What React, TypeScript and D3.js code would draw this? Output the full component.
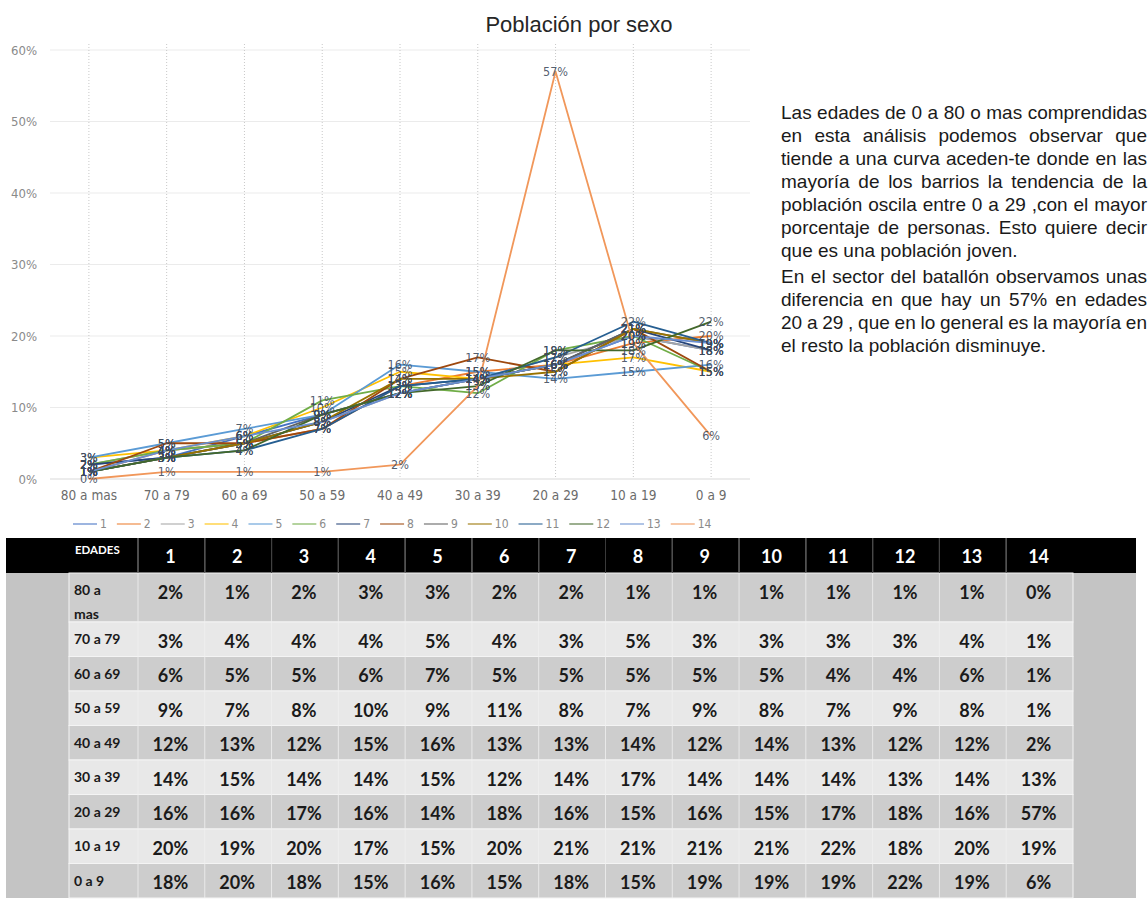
import React, { useEffect, useRef } from "react";
import * as d3 from "d3";

// age groups, left to right on the chart and top to bottom in the table
const ageGroups = ["80 a mas", "70 a 79", "60 a 69", "50 a 59", "40 a 49", "30 a 39", "20 a 29", "10 a 19", "0 a 9"];
const seriesNames = ["1", "2", "3", "4", "5", "6", "7", "8", "9", "10", "11", "12", "13", "14"];

// percentages per age group, one value per barrio (1..14)
const p80mas = [2, 1, 2, 3, 3, 2, 2, 1, 1, 1, 1, 1, 1, 0];
const p70a79 = [3, 4, 4, 4, 5, 4, 3, 5, 3, 3, 3, 3, 4, 1];
const p60a69 = [6, 5, 5, 6, 7, 5, 5, 5, 5, 5, 4, 4, 6, 1];
const p50a59 = [9, 7, 8, 10, 9, 11, 8, 7, 9, 8, 7, 9, 8, 1];
const p40a49 = [12, 13, 12, 15, 16, 13, 13, 14, 12, 14, 13, 12, 12, 2];
const p30a39 = [14, 15, 14, 14, 15, 12, 14, 17, 14, 14, 14, 13, 14, 13];
const p20a29 = [16, 16, 17, 16, 14, 18, 16, 15, 16, 15, 17, 18, 16, 57];
const p10a19 = [20, 19, 20, 17, 15, 20, 21, 21, 21, 21, 22, 18, 20, 19];
const p0a9 = [18, 20, 18, 15, 16, 15, 18, 15, 19, 19, 19, 22, 19, 6];
const ageRows = [p80mas, p70a79, p60a69, p50a59, p40a49, p30a39, p20a29, p10a19, p0a9];

const yTicks = [0, 10, 20, 30, 40, 50, 60];
const tableAgeLabels = [["80 a", "mas"], ["70 a 79"], ["60 a 69"], ["50 a 59"], ["40 a 49"], ["30 a 39"], ["20 a 29"], ["10 a 19"], ["0 a 9"]];

const lineColors = [
    "#4472C4", "#ED7D31", "#A5A5A5", "#FFC000", "#5B9BD5", "#70AD47", "#264478",
    "#9E480E", "#636363", "#997300", "#255E91", "#43682B", "#698ED0", "#F1975A",
];

const title = "Población por sexo";
const paragraphs = [
    [
        "Las edades de 0 a 80 o mas comprendidas",
        "en esta análisis podemos observar que",
        "tiende a una curva aceden-te donde en las",
        "mayoría de los barrios  la tendencia de la",
        "población oscila entre 0 a 29 ,con el mayor",
        "porcentaje de personas. Esto quiere decir",
        "que es una población joven.",
    ],
    [
        "En el sector del batallón observamos unas",
        "diferencia en que hay un 57% en edades",
        "20 a 29 , que en lo general es la mayoría en",
        "el resto la población disminuye.",
    ],
];

const App = () => {
    const svgRef = useRef<SVGSVGElement>(null);

    useEffect(() => {
        const svg = d3.select(svgRef.current);
        svg.selectAll("*").remove();

        const narrow = "'Liberation Sans Narrow', 'DejaVu Sans Condensed', sans-serif";
        const arial = "'Liberation Sans', Arial, sans-serif";
        const bold = "Lato, 'Open Sans', sans-serif";
        const ctx = document.createElement("canvas").getContext("2d");
        const measure = (s: string, font: string) => {
            ctx.font = font;
            return ctx.measureText(s).width;
        };

        const plot = { left: 50, right: 750, top: 50, bottom: 479 };
        const x = d3.scaleBand().domain(ageGroups).range([plot.left, plot.right]);
        const cx = (g: string) => x(g) + x.bandwidth() / 2;
        const y = d3.scaleLinear().domain([0, 60]).range([plot.bottom, plot.top]);

        // title
        svg.append("text")
            .attr("x", 579)
            .attr("y", 32)
            .attr("text-anchor", "middle")
            .style("font-family", arial)
            .style("font-size", "22px")
            .attr("fill", "#262626")
            .text(title);

        // horizontal grid lines
        svg.append("g")
            .selectAll("line")
            .data(yTicks)
            .join("line")
            .attr("x1", plot.left)
            .attr("x2", plot.right)
            .attr("y1", (d) => y(d))
            .attr("y2", (d) => y(d))
            .attr("stroke", (d) => (d === 0 ? "#d9d9d9" : "#ebebeb"))
            .attr("stroke-width", 1);

        // vertical dotted grid lines at the categories
        svg.append("g")
            .selectAll("line")
            .data(ageGroups)
            .join("line")
            .attr("x1", (d) => cx(d))
            .attr("x2", (d) => cx(d))
            .attr("y1", plot.top - 6)
            .attr("y2", plot.bottom)
            .attr("stroke", "#c8c8c8")
            .attr("stroke-dasharray", "1,2");

        // y axis labels
        svg.append("g")
            .attr("transform", `translate(${plot.left},0)`)
            .call(d3.axisLeft(y).tickValues(yTicks).tickSize(0).tickPadding(13).tickFormat((d) => d + "%"))
            .call((g) => g.select(".domain").remove())
            .call((g) =>
                g.selectAll("text").style("font-family", narrow).style("font-size", "13px").attr("fill", "#8a8a8a")
            );

        // x axis labels
        svg.append("g")
            .attr("transform", `translate(0,${plot.bottom})`)
            .call(d3.axisBottom(x).tickSize(0).tickPadding(11))
            .call((g) => g.select(".domain").remove())
            .call((g) =>
                g.selectAll("text").style("font-family", narrow).style("font-size", "13.5px").attr("fill", "#6b6b6b")
            );

        const series = seriesNames.map((name, j) => ({ name, color: lineColors[j], values: ageRows.map((r) => r[j]) }));

        const line = d3
            .line<number>()
            .x((d, i) => cx(ageGroups[i]))
            .y((d) => y(d));

        svg.append("g")
            .selectAll("path")
            .data(series)
            .join("path")
            .attr("fill", "none")
            .attr("stroke", (d) => d.color)
            .attr("stroke-width", 1.8)
            .attr("stroke-linejoin", "round")
            .attr("d", (d) => line(d.values));

        // data labels, centred on the points
        const labels = svg.append("g");
        series.forEach((s) => {
            labels
                .selectAll(null)
                .data(s.values)
                .join("text")
                .attr("x", (d, i) => cx(ageGroups[i]))
                .attr("y", (d) => y(d))
                .attr("dy", "0.35em")
                .attr("text-anchor", "middle")
                .style("font-family", narrow)
                .style("font-size", "12.5px")
                .attr("fill", "#3d4a5c")
                .attr("fill-opacity", 0.9)
                .text((d) => d + "%");
        });

        // legend
        const legendFont = `12px ${narrow}`;
        let lx = 73;
        const legend = svg.append("g");
        series.forEach((s) => {
            legend.append("line")
                .attr("x1", lx)
                .attr("x2", lx + 24)
                .attr("y1", 524)
                .attr("y2", 524)
                .attr("stroke", s.color)
                .attr("stroke-opacity", 0.7)
                .attr("stroke-width", 1.5);
            legend.append("text")
                .attr("x", lx + 27)
                .attr("y", 528)
                .style("font-family", narrow)
                .style("font-size", "12px")
                .attr("fill", "#8a8a8a")
                .text(s.name);
            lx += 27 + measure(s.name, legendFont) + 10;
        });

        // justified paragraph on the right
        const textFont = `19px ${arial}`;
        const textLeft = 781;
        const textWidth = 366;
        const baselines = [
            [119, 142, 165, 188, 211, 234, 257],
            [283, 306, 329, 352],
        ];
        const para = svg.append("g").style("font-family", arial).style("font-size", "19px").attr("fill", "#1a1a1a");
        paragraphs.forEach((lines, pi) => {
            lines.forEach((ln, li) => {
                const words = ln.split(/\s+/);
                const widths = words.map((w) => measure(w, textFont));
                const last = li === lines.length - 1;
                const gap = last
                    ? measure(" ", textFont)
                    : (textWidth - d3.sum(widths)) / (words.length - 1);
                let wx = textLeft;
                words.forEach((w, wi) => {
                    para.append("text").attr("x", wx).attr("y", baselines[pi][li]).text(w);
                    wx += widths[wi] + gap;
                });
            });
        });

        // table
        const tLeft = 6;
        const tRight = 1136;
        const ageColLeft = 69;
        const col = d3.scaleBand().domain(seriesNames).range([138, 1073]);
        const headTop = 538;
        const headBottom = 573;
        const rowTop = (i: number) => (i === 0 ? headBottom : 622 + (i - 1) * 34.5);
        const rowBottom = (i: number) => 622 + i * 34.5;
        const table = svg.append("g");

        table.append("rect")
            .attr("x", tLeft)
            .attr("y", headBottom)
            .attr("width", tRight - tLeft)
            .attr("height", rowBottom(ageGroups.length - 1) - headBottom)
            .attr("fill", "#c4c4c4");

        table.append("rect")
            .attr("x", tLeft)
            .attr("y", headTop)
            .attr("width", tRight - tLeft)
            .attr("height", headBottom - headTop)
            .attr("fill", "#000");

        table.selectAll(null)
            .data(ageGroups)
            .join("rect")
            .attr("x", ageColLeft)
            .attr("y", (d, i) => rowTop(i))
            .attr("width", 1073 - ageColLeft)
            .attr("height", (d, i) => rowBottom(i) - rowTop(i))
            .attr("fill", (d, i) => (i % 2 === 0 ? "#cdcdcd" : "#e8e8e8"))
            .attr("stroke", "#f4f4f4")
            .attr("stroke-width", 1);

        // column separators
        table.selectAll(null)
            .data(seriesNames)
            .join("line")
            .attr("x1", (d) => col(d))
            .attr("x2", (d) => col(d))
            .attr("y1", headTop)
            .attr("y2", rowBottom(ageGroups.length - 1))
            .attr("stroke", "#f0f0f0")
            .attr("stroke-opacity", 0.8);
        table.selectAll(null)
            .data(seriesNames)
            .join("line")
            .attr("x1", (d) => col(d))
            .attr("x2", (d) => col(d))
            .attr("y1", headTop)
            .attr("y2", headBottom)
            .attr("stroke", "#3a3a3a");

        table.append("text")
            .attr("x", 75)
            .attr("y", 554)
            .style("font-family", bold)
            .style("font-weight", 700)
            .style("font-size", "11.5px")
            .attr("fill", "#fff")
            .text("EDADES");

        table.selectAll(null)
            .data(seriesNames)
            .join("text")
            .attr("x", (d) => col(d) + col.bandwidth() / 2 - 1)
            .attr("y", 563)
            .attr("text-anchor", "middle")
            .style("font-family", bold)
            .style("font-weight", 700)
            .style("font-size", "18px")
            .attr("fill", "#fff")
            .text((d) => d);

        ageRows.forEach((vals, i) => {
            const lines = tableAgeLabels[i];
            lines.forEach((t, k) => {
                table.append("text")
                    .attr("x", 74)
                    .attr("y", rowTop(i) + 22 + k * 24)
                    .style("font-family", bold)
                    .style("font-weight", 700)
                    .style("font-size", "14px")
                    .attr("fill", "#1a1a1a")
                    .text(t);
            });
            table.selectAll(null)
                .data(vals)
                .join("text")
                .attr("x", (d, j) => col(seriesNames[j]) + col.bandwidth() / 2 - 1)
                .attr("y", rowTop(i) + 25.5)
                .attr("text-anchor", "middle")
                .style("font-family", bold)
                .style("font-weight", 700)
                .style("font-size", "18px")
                .attr("fill", "#1a1a1a")
                .text((d) => d + "%");
        });
    }, []);

    return (
        <svg
            ref={svgRef}
            width={1148}
            height={900}
            style={{ position: "absolute", left: 0, top: 0, background: "#fff" }}
        ></svg>
    );
};

export default App;
